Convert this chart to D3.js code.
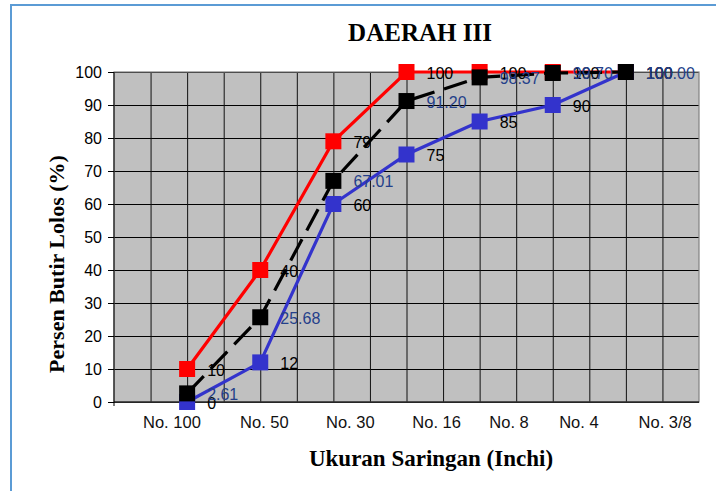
<!DOCTYPE html>
<html>
<head>
<meta charset="utf-8">
<script src="https://cdn.jsdelivr.net/npm/d3@7"></script>
<style>
  html, body { margin: 0; padding: 0; background: #fff; }
  svg { display: block; font-family: Arial, "Liberation Sans", sans-serif; }
</style>
</head>
<body>
<svg id="chart" width="716" height="491"></svg>
<script>
// ---- data ----
const categories = ["No. 100", "No. 50", "No. 30", "No. 16", "No. 8", "No. 4", "No. 3/8"];
const pointX = [2, 4, 6, 8, 10, 12, 14];            // positions on the 0..16 horizontal value axis
const tickLabelAt = [1.57, 4.10, 6.45, 8.81, 10.79, 12.70, 15.06]; // where the category texts sit
const upperLimit = [10, 40, 79, 100, 100, 100, 100];
const lowerLimit = [0, 12, 60, 75, 85, 90, 100];
const sample = [2.61, 25.68, 67.01, 91.20, 98.37, 99.70, 100.00];
const upperLabels = ["10", "40", "79", "100", "100", "100", "100"];
const lowerLabels = ["0", "12", "60", "75", "85", "90", "100"];
const sampleLabels = ["2.61", "25.68", "67.01", "91.20", "98.37", "99.70", "100.00"];
const yTicks = [0, 10, 20, 30, 40, 50, 60, 70, 80, 90, 100];

// ---- layout ----
const svg = d3.select("#chart");
const L = 114, R = 699, T = 72, B = 402;
const x = d3.scaleLinear().domain([0, 16]).range([L, R]);
const y = d3.scaleLinear().domain([0, 100]).range([B, T]);
const SANS = "Arial, 'Liberation Sans', sans-serif";
const SERIF = "'Liberation Serif', 'Times New Roman', serif";

// outer frame (left + top only visible)
svg.append("path")
  .attr("d", "M11,491 L11,5 L716,5")
  .attr("fill", "none").attr("stroke", "#5b9bd5").attr("stroke-width", 2);

// plot background
svg.append("rect").attr("x", L).attr("y", T).attr("width", R - L).attr("height", B - T)
  .attr("fill", "#c0c0c0");

// gridlines
const gy = svg.append("g").attr("transform", `translate(${L},0)`)
  .call(d3.axisLeft(y).tickValues(yTicks).tickSize(-(R - L)).tickFormat(""));
gy.select(".domain").remove();
gy.selectAll("line").attr("stroke", "#000").attr("stroke-width", 1);

const gx = svg.append("g").attr("transform", `translate(0,${B})`)
  .call(d3.axisBottom(x).tickValues(d3.range(1, 16)).tickSize(-(B - T)).tickFormat(""));
gx.select(".domain").remove();
gx.selectAll("line").attr("stroke", "#111").attr("stroke-width", 1);

// plot border
svg.append("rect").attr("x", L).attr("y", T).attr("width", R - L).attr("height", B - T)
  .attr("fill", "none").attr("stroke", "#808080").attr("stroke-width", 1.2);

// x axis line
svg.append("line").attr("x1", L).attr("x2", R).attr("y1", B).attr("y2", B)
  .attr("stroke", "#000").attr("stroke-width", 1);

// y axis
const ay = svg.append("g").attr("transform", `translate(${L},0)`)
  .call(d3.axisLeft(y).tickValues(yTicks).tickSize(6).tickPadding(6));
ay.select(".domain").attr("d", `M0,${T}V${B + 4}`).attr("stroke", "#000");
ay.selectAll("line").attr("stroke", "#000");
ay.selectAll("text").attr("fill", "#000")
  .style("font-size", "16px").style("font-family", SANS);

// x category labels
const ax = svg.append("g").attr("transform", `translate(0,${B})`)
  .call(d3.axisBottom(x).tickValues(tickLabelAt).tickSize(0).tickPadding(14)
    .tickFormat((d, i) => categories[i]));
ax.select(".domain").remove();
ax.selectAll("text").attr("fill", "#111")
  .style("font-size", "16.5px").style("font-family", SANS);

// ---- series ----
const series = [
  { vals: upperLimit, color: "#ff0000", dash: null, labels: upperLabels, labelColor: "#000" },
  { vals: lowerLimit, color: "#3333cc", dash: null, labels: lowerLabels, labelColor: "#000" },
  { vals: sample, color: "#000000", dash: "24,10", labels: sampleLabels, labelColor: "#243f8a" }
];
const line = d3.line().x((d, i) => x(pointX[i])).y(d => y(d));
const M = 16;

series.forEach(s => {
  svg.append("path").datum(s.vals)
    .attr("d", line).attr("fill", "none")
    .attr("stroke", s.color).attr("stroke-width", 3.2)
    .attr("stroke-dasharray", s.dash);
  svg.append("g").selectAll("rect").data(s.vals).join("rect")
    .attr("x", (d, i) => x(pointX[i]) - M / 2)
    .attr("y", d => y(d) - M / 2)
    .attr("width", M).attr("height", M)
    .attr("fill", s.color);
});

series.forEach(s => {
  svg.append("g").selectAll("text").data(s.vals).join("text")
    .attr("x", (d, i) => x(pointX[i]) + 20)
    .attr("y", d => y(d) + 1)
    .attr("dominant-baseline", "central")
    .attr("fill", s.labelColor)
    .style("font-size", "16px").style("font-family", SANS)
    .text((d, i) => s.labels[i]);
});

// ---- titles ----
svg.append("text").attr("x", 420).attr("y", 41).attr("text-anchor", "middle")
  .style("font-family", SERIF).style("font-weight", "bold").style("font-size", "25px")
  .attr("fill", "#000")
  .text("DAERAH III");

svg.append("text").attr("x", 431).attr("y", 466).attr("text-anchor", "middle")
  .style("font-family", SERIF).style("font-weight", "bold").style("font-size", "23px")
  .attr("fill", "#000")
  .text("Ukuran Saringan (Inchi)");

svg.append("text")
  .attr("transform", "translate(64,264) rotate(-90)")
  .attr("text-anchor", "middle")
  .style("font-family", SERIF).style("font-weight", "bold").style("font-size", "22px")
  .attr("fill", "#000")
  .text("Persen Butir Lolos (%)");
</script>
</body>
</html>
